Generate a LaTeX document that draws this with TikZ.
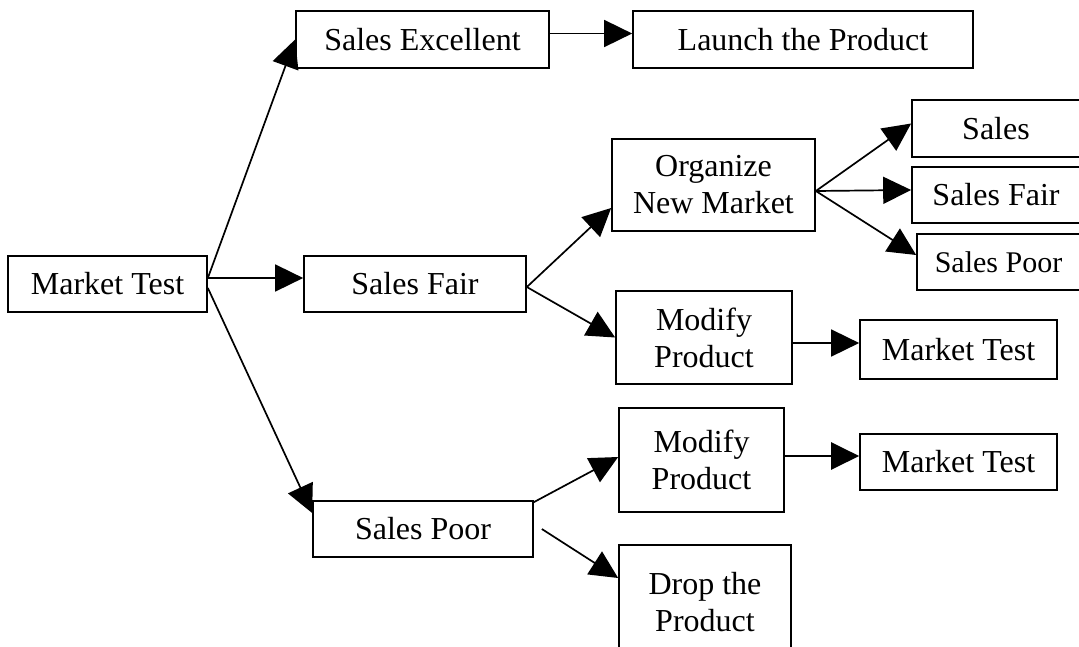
\documentclass[tikz,border=0pt]{standalone}
\usepackage{fontspec}
\setmainfont{Liberation Serif}
\usetikzlibrary{arrows.meta}

\begin{document}
\begin{tikzpicture}[x=1pt,y=-1pt,
        box/.style={draw=black, line width=1.7pt, inner sep=0pt, align=center,
            font={\fontsize{32}{37}\selectfont}},
        link/.style={line width=1.7pt, -{Triangle[length=28pt,width=27pt]}}]
    \useasboundingbox (0,0) rectangle (1079,646);
    \clip (0,0) rectangle (1079,646);
    % first level
    \node[box, minimum width=199pt, minimum height=56pt] (mt) at (107.5,284) {Market Test};
    \node[box, minimum width=253pt, minimum height=57pt] (se) at (422.5,39.5) {Sales Excellent};
    \node[box, minimum width=222pt, minimum height=56pt] (sf) at (415,284) {Sales Fair};
    \node[box, minimum width=220pt, minimum height=56pt] (sp) at (423,529) {Sales Poor};
    % second level
    \node[box, minimum width=340pt, minimum height=57pt] (lp) at (803,39.5) {Launch the Product};
    \node[box, minimum width=203pt, minimum height=92pt] (onm) at (713.5,185) {Organize\\New Market};
    \node[box, minimum width=176pt, minimum height=93pt] (mp1) at (704,337.5) {Modify\\Product};
    \node[box, minimum width=165pt, minimum height=104pt] (mp2) at (701.5,460) {Modify\\Product};
    \node[box, minimum width=172pt, minimum height=115pt] (dp) at (705,602.5) {Drop the\\Product};
    % third level
    \node[box, minimum width=168pt, minimum height=57pt] (s1) at (996,128.5) {Sales};
    \node[box, minimum width=168pt, minimum height=56pt] (s2) at (996,195) {Sales Fair};
    \node[box, minimum width=163pt, minimum height=56pt, font={\fontsize{30}{36}\selectfont}] (s3) at (998.5,262) {Sales Poor};
    \node[box, minimum width=197pt, minimum height=59pt] (mt1) at (958.5,349.5) {Market Test};
    \node[box, minimum width=197pt, minimum height=56pt] (mt2) at (958.5,462) {Market Test};

    \draw[link] ([yshift=6pt]mt.east) -- (se.west);
    \draw[link] ([yshift=6pt]mt.east) -- ([yshift=6pt]sf.west);
    \draw[link] ([yshift=-4pt]mt.east) -- ([yshift=16pt]sp.west);
    \draw[link] ([yshift=6pt]se.east) -- ([yshift=6pt]lp.west);
    \draw[link] ([yshift=-3pt]sf.east) -- ([yshift=-23pt]onm.west);
    \draw[link] ([yshift=-3pt]sf.east) -- (mp1.west);
    \draw[link] ([yshift=-6pt]onm.east) -- ([yshift=5pt]s1.west);
    \draw[link] ([yshift=-6pt]onm.east) -- ([yshift=5pt]s2.west);
    \draw[link] ([yshift=-6pt]onm.east) -- ([yshift=7pt]s3.west);
    \draw[link] ([yshift=-5.5pt]mp1.east) -- ([yshift=6.5pt]mt1.west);
    \draw[link, line width=2.6pt] ([yshift=4pt]mp2.east) -- ([yshift=6pt]mt2.west);
    \draw[link] ([yshift=-2pt]sp.north east) -- ([yshift=3pt]mp2.west);
    \draw[link] ([xshift=8pt]sp.east) -- ([yshift=24.5pt]dp.west);
\end{tikzpicture}
\end{document}
